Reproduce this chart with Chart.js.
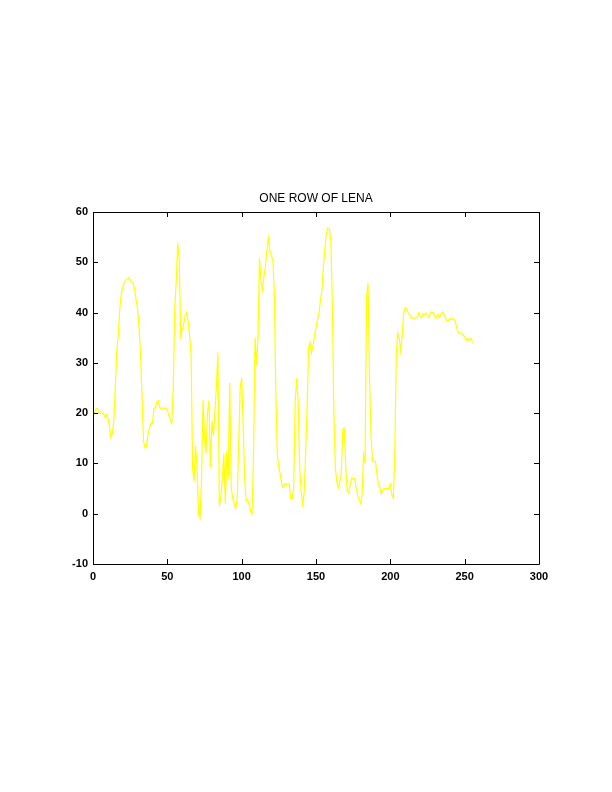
<!DOCTYPE html>
<html>
<head>
<meta charset="utf-8">
<title>One row of Lena</title>
<script src="https://cdn.jsdelivr.net/npm/chart.js@4.4.1/dist/chart.umd.min.js"></script>
<style>
    html, body { margin: 0; padding: 0; background: #fff; }
    canvas { display: block; }
</style>
</head>
<body>
<canvas id="lena-row" width="612" height="792" style="width:612px;height:792px"></canvas>
<script>
// ------------------------------------------------------------
// One row of Lena — pixel values
// ------------------------------------------------------------

// column numbers 1..256 (the x categories)
const COLUMNS = Array.from({ length: 256 }, (_, i) => i + 1);

// row values, 16 per line
const ROW_VALUES = [
    20, 20.9, 20.9, 20, 20, 20, 20, 19.2, 19.8, 19, 17.4, 15.2, 16, 18.4, 25, 32.3,
    35.6, 40.6, 43.7, 45, 46, 46.5, 46.7, 46.9, 46.5, 46.1, 45.9, 44.5, 42.5, 40.6, 36.9, 31.6,
    23, 14.4, 13.1, 13.4, 15.8, 17, 18, 18, 21, 21, 22.3, 22.5, 21, 21, 21, 21,
    21, 20.7, 19.5, 18.7, 18, 25.3, 41, 46.2, 53.8, 50.5, 35.3, 36.6, 37.7, 39.4, 40.1, 38.2,
    35.3, 31.6, 9, 6.5, 13.5, 9, -0.2, -0.9, 7, 22.6, 15, 12, 20, 22.5, 9.3, 18.5,
    15.5, 20.2, 25.3, 32, 1.5, 3.5, 7, 12, 2, 12.5, 7, 26, 5, 3, 2, 1,
    3, 14, 25, 27, 17.7, 7.1, 2.5, 2.8, 1.8, 0.5, 0, 12, 35, 29.6, 35, 50.8,
    46.2, 44.5, 47.2, 49.2, 52.5, 54.8, 52.2, 51.3, 50.5, 43.6, 23.7, 11.7, 9.2, 7.8, 5.8, 5.2,
    5.9, 5.9, 5.9, 5.9, 3, 3, 5.1, 22.3, 27, 22.3, 9.1, 4.5, 1.9, 4, 11.7, 21,
    33, 34, 32, 33.3, 35.6, 36.9, 38.6, 39.9, 42.5, 44.5, 49.2, 52.8, 56, 56.8, 56.5, 54.2,
    41.6, 20.4, 9.1, 6.4, 5.2, 6.4, 7.8, 16.7, 17, 9.4, 4.5, 4.1, 5.8, 7, 7, 7,
    5.2, 3.8, 2.8, 2.1, 3.8, 11.7, 10, 42.9, 45.9, 27, 15.7, 10.4, 10.4, 10.4, 7.8, 5.8,
    5.2, 3.9, 4.8, 5, 5, 5, 5.1, 5.9, 3.8, 3.1, 11.7, 31.6, 35.9, 34.9, 32.3, 35.6,
    39.9, 40.9, 40.8, 39.9, 39.6, 38.9, 38.9, 38.9, 38.9, 39, 39.9, 39.2, 39, 39.7, 39.4, 39.9,
    39.6, 39, 40.1, 40.1, 40, 39.2, 38.9, 39.6, 39, 39.6, 40.1, 39.7, 38.9, 38.4, 38.4, 38.8,
    38.6, 38.9, 38.6, 37.9, 36.6, 35.9, 35.9, 35.9, 35.5, 35.1, 34.4, 34.9, 34.4, 34.9, 34.3, 33.9
];

const X_TICKS = [0, 50, 100, 150, 200, 250, 300];
const Y_TICKS = [-10, 0, 10, 20, 30, 40, 50, 60];

const TICK_FONT = { family: "'Liberation Sans', Arial, sans-serif", size: 11, weight: "bold" };
const TICK_LEN = 5;

// box around the plot plus inward tick marks on all four sides
const frameAndTicks = {
    id: "frameAndTicks",
    afterDatasetsDraw(chart) {
        const { ctx, chartArea: a, scales } = chart;
        ctx.save();
        ctx.strokeStyle = "#000";
        ctx.lineWidth = 1;
        ctx.beginPath();
        ctx.rect(Math.round(a.left) + 0.5, Math.round(a.top) + 0.5,
                 Math.round(a.right - a.left), Math.round(a.bottom - a.top));
        X_TICKS.forEach(v => {
            const px = Math.round(scales.x.getPixelForValue(v)) + 0.5;
            ctx.moveTo(px, a.bottom); ctx.lineTo(px, a.bottom - TICK_LEN);
            ctx.moveTo(px, a.top); ctx.lineTo(px, a.top + TICK_LEN);
        });
        Y_TICKS.forEach(v => {
            const py = Math.round(scales.y.getPixelForValue(v)) + 0.5;
            ctx.moveTo(a.left, py); ctx.lineTo(a.left + TICK_LEN, py);
            ctx.moveTo(a.right, py); ctx.lineTo(a.right - TICK_LEN, py);
        });
        ctx.stroke();
        ctx.restore();
    }
};

new Chart(document.getElementById("lena-row").getContext("2d"), {
    type: "line",
    data: {
        labels: COLUMNS,
        datasets: [{
            data: ROW_VALUES,
            borderColor: "#ffff00",
            borderWidth: 1.2,
            pointRadius: 0,
            tension: 0,
            fill: false
        }]
    },
    options: {
        responsive: false,
        animation: false,
        devicePixelRatio: 1,
        layout: { padding: { left: 0, right: 73, top: 0, bottom: 0 } },
        plugins: {
            legend: { display: false },
            tooltip: { enabled: false },
            title: {
                display: true,
                fullSize: false,   // centre over the plot box, not the page
                text: "ONE ROW OF LENA",
                color: "#000",
                font: { family: "'Liberation Sans', Arial, sans-serif", size: 12, weight: "normal" },
                padding: { top: 191, bottom: 6.6 }
            }
        },
        scales: {
            x: {
                type: "linear",
                min: 0,
                max: 300,
                afterBuildTicks: s => { s.ticks = X_TICKS.map(v => ({ value: v })); },
                ticks: { color: "#000", font: TICK_FONT, padding: 6, maxRotation: 0 },
                grid: { display: false, drawTicks: false },
                border: { display: false },
                afterFit: s => { s.height = 228; }
            },
            y: {
                type: "linear",
                min: -10,
                max: 60,
                afterBuildTicks: s => { s.ticks = Y_TICKS.map(v => ({ value: v })); },
                ticks: { color: "#000", font: TICK_FONT, padding: 5 },
                grid: { display: false, drawTicks: false },
                border: { display: false },
                afterFit: s => { s.width = 93; }
            }
        }
    },
    plugins: [frameAndTicks]
});
</script>
</body>
</html>
